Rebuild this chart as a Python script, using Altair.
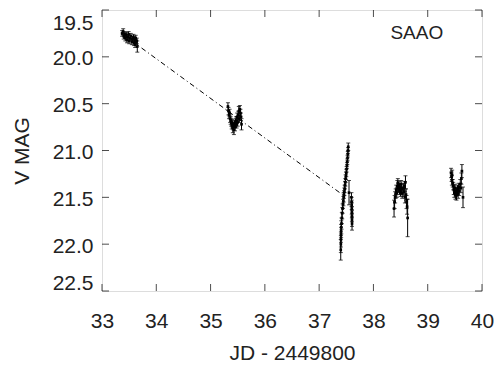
import altair as alt
import pandas as pd

# ---- data ----
c1_x = [33.37, 33.39, 33.40, 33.42, 33.43, 33.45, 33.46, 33.48, 33.49, 33.50,
        33.52, 33.53, 33.55, 33.56, 33.58, 33.59, 33.60, 33.61, 33.62, 33.63,
        33.64, 33.65]
c1_m = [19.75, 19.73, 19.78, 19.76, 19.80, 19.77, 19.82, 19.79, 19.76, 19.83,
        19.80, 19.78, 19.84, 19.81, 19.79, 19.85, 19.82, 19.87, 19.80, 19.84,
        19.83, 19.89]
c1_e = [0.03] * 21 + [0.06]

c2_x = [35.32, 35.33, 35.34, 35.35, 35.36, 35.37, 35.38, 35.39, 35.40, 35.41,
        35.42, 35.43, 35.44, 35.45, 35.46, 35.47, 35.48, 35.49, 35.50, 35.51,
        35.52, 35.53, 35.54, 35.55, 35.56, 35.57]
c2_m = [20.53, 20.58, 20.62, 20.60, 20.66, 20.68, 20.70, 20.73, 20.71, 20.76,
        20.74, 20.78, 20.72, 20.75, 20.70, 20.68, 20.72, 20.64, 20.70, 20.62,
        20.58, 20.66, 20.56, 20.60, 20.64, 20.72]
c2_e = [0.04, 0.04, 0.04, 0.04, 0.04, 0.04, 0.04, 0.04, 0.04, 0.05,
        0.04, 0.05, 0.04, 0.04, 0.04, 0.04, 0.04, 0.04, 0.04, 0.04,
        0.05, 0.04, 0.04, 0.04, 0.04, 0.06]

c3_x = [37.398, 37.400, 37.401, 37.403, 37.405, 37.408, 37.412, 37.418, 37.425, 37.432,
        37.440, 37.446, 37.452, 37.458, 37.464, 37.470, 37.476, 37.482, 37.488, 37.494,
        37.500, 37.506, 37.512, 37.518, 37.523, 37.528, 37.532, 37.536, 37.550,
        37.595, 37.598, 37.600, 37.601, 37.603, 37.604, 37.605, 37.606]
c3_m = [22.06, 22.00, 21.95, 21.90, 21.86, 21.82, 21.78, 21.72, 21.67, 21.62,
        21.57, 21.54, 21.50, 21.47, 21.44, 21.41, 21.37, 21.34, 21.30, 21.27,
        21.24, 21.20, 21.16, 21.12, 21.08, 21.04, 21.00, 20.96, 21.45,
        21.50, 21.55, 21.58, 21.62, 21.66, 21.70, 21.74, 21.78]
c3_e = [0.11, 0.09, 0.08, 0.08, 0.07, 0.07, 0.06, 0.06, 0.06, 0.05,
        0.05, 0.05, 0.05, 0.04, 0.04, 0.04, 0.04, 0.04, 0.04, 0.04,
        0.04, 0.03, 0.03, 0.03, 0.03, 0.03, 0.03, 0.04, 0.13,
        0.05, 0.05, 0.05, 0.06, 0.06, 0.06, 0.07, 0.07]

c4_x = [38.38, 38.39, 38.40, 38.41, 38.42, 38.43, 38.44, 38.45, 38.46, 38.47,
        38.48, 38.49, 38.50, 38.51, 38.52, 38.53, 38.55, 38.56, 38.57, 38.58,
        38.59, 38.60, 38.61, 38.62, 38.63]
c4_m = [21.62, 21.55, 21.50, 21.46, 21.42, 21.45, 21.38, 21.35, 21.40, 21.37,
        21.42, 21.39, 21.44, 21.36, 21.41, 21.46, 21.40, 21.44, 21.38, 21.50,
        21.34, 21.47, 21.55, 21.60, 21.72]
c4_e = [0.09, 0.07, 0.06, 0.05, 0.05, 0.05, 0.06, 0.05, 0.05, 0.04,
        0.05, 0.04, 0.05, 0.04, 0.05, 0.05, 0.05, 0.05, 0.05, 0.06,
        0.07, 0.06, 0.07, 0.08, 0.20]

c5_x = [39.43, 39.44, 39.445, 39.45, 39.46, 39.47, 39.48, 39.49, 39.50, 39.51,
        39.52, 39.53, 39.54, 39.55, 39.56, 39.57, 39.58, 39.60, 39.61, 39.62,
        39.63, 39.65]
c5_m = [21.24, 21.28, 21.32, 21.26, 21.35, 21.38, 21.42, 21.45, 21.40, 21.47,
        21.43, 21.48, 21.44, 21.41, 21.46, 21.39, 21.43, 21.36, 21.40, 21.30,
        21.22, 21.50]
c5_e = [0.05, 0.05, 0.05, 0.05, 0.04, 0.04, 0.05, 0.05, 0.04, 0.05,
        0.04, 0.05, 0.04, 0.04, 0.05, 0.04, 0.05, 0.05, 0.05, 0.06,
        0.07, 0.11]

trend_x = [33.55, 37.45]
trend_m = [19.83, 21.48]

x_ticks = [33, 34, 35, 36, 37, 38, 39, 40]
y_ticks = [19.5, 20.0, 20.5, 21.0, 21.5, 22.0, 22.5]
label_text = ["SAAO"]
label_x = [38.8]
label_m = [19.75]

# ---- tables ----
xs = c1_x + c2_x + c3_x + c4_x + c5_x
ms = c1_m + c2_m + c3_m + c4_m + c5_m
es = c1_e + c2_e + c3_e + c4_e + c5_e
obs = pd.DataFrame({"jd": xs, "mag": ms, "err": es})
obs["lo"] = obs["mag"] - obs["err"]
obs["hi"] = obs["mag"] + obs["err"]

trend = pd.DataFrame({"jd": trend_x, "mag": trend_m})
xt = pd.DataFrame({"jd": x_ticks})
yt = pd.DataFrame({"mag": y_ticks})
lab = pd.DataFrame({"t": label_text, "jd": label_x, "mag": label_m})

FONT = "Liberation Sans"
TXT = "#222"
xscale = alt.Scale(domain=[33, 40], nice=False, zero=False)
yscale = alt.Scale(domain=[19.5, 22.5], reverse=True, nice=False, zero=False)

X = alt.X("jd:Q", scale=xscale, title="JD - 2449800",
          axis=alt.Axis(values=x_ticks, ticks=False, domain=False, grid=False,
                        labelFlush=False, labelFontSize=21, labelPadding=19,
                        titleFontSize=21, titlePadding=11, titleFontWeight="normal",
                        labelColor=TXT, titleColor=TXT, labelFont=FONT, titleFont=FONT,
                        format="d"))
Y = alt.Y("mag:Q", scale=yscale, title="V MAG",
          axis=alt.Axis(values=y_ticks, ticks=False, domain=False, grid=False,
                        labelFlush=True, labelFontSize=21, labelPadding=9, labelOffset=2,
                        titleFontSize=21, titlePadding=20, titleFontWeight="normal",
                        labelColor=TXT, titleColor=TXT, labelFont=FONT, titleFont=FONT,
                        format=".1f"))

bars = alt.Chart(obs).mark_rule(color="black", strokeWidth=1).encode(
    x=X, y=alt.Y("lo:Q", scale=yscale), y2="hi:Q")
cap_lo = alt.Chart(obs).mark_tick(color="black", orient="horizontal", size=4, thickness=1).encode(
    x=alt.X("jd:Q", scale=xscale), y=alt.Y("lo:Q", scale=yscale))
cap_hi = alt.Chart(obs).mark_tick(color="black", orient="horizontal", size=4, thickness=1).encode(
    x=alt.X("jd:Q", scale=xscale), y=alt.Y("hi:Q", scale=yscale))
pts = alt.Chart(obs).mark_square(color="black", size=7, opacity=1).encode(
    x=alt.X("jd:Q", scale=xscale), y=Y)
line = alt.Chart(trend).mark_line(color="black", strokeWidth=1, strokeDash=[5, 3, 1, 3]).encode(
    x=alt.X("jd:Q", scale=xscale), y=alt.Y("mag:Q", scale=yscale))

TL = 7
xb = alt.Chart(xt).mark_tick(orient="vertical", color="black", thickness=1, size=TL,
                             yOffset=-TL / 2).encode(
    x=alt.X("jd:Q", scale=xscale), y=alt.datum(22.5, scale=yscale))
xtp = alt.Chart(xt).mark_tick(orient="vertical", color="black", thickness=1, size=TL,
                              yOffset=TL / 2).encode(
    x=alt.X("jd:Q", scale=xscale), y=alt.datum(19.5, scale=yscale))
yl = alt.Chart(yt).mark_tick(orient="horizontal", color="black", thickness=1, size=TL,
                             xOffset=TL / 2).encode(
    y=alt.Y("mag:Q", scale=yscale), x=alt.datum(33, scale=xscale))
yr = alt.Chart(yt).mark_tick(orient="horizontal", color="black", thickness=1, size=TL,
                             xOffset=-TL / 2).encode(
    y=alt.Y("mag:Q", scale=yscale), x=alt.datum(40, scale=xscale))

txt = alt.Chart(lab).mark_text(font=FONT, fontSize=19, color=TXT).encode(
    x=alt.X("jd:Q", scale=xscale), y=alt.Y("mag:Q", scale=yscale), text="t:N")

chart = alt.layer(line, bars, cap_lo, cap_hi, pts, xb, xtp, yl, yr, txt).properties(
    width=380, height=281,
    autosize=alt.AutoSizeParams(type="none"),
    padding={"left": 102, "top": 10, "right": 15, "bottom": 76},
).configure_view(stroke="black", strokeWidth=1).configure(background="white")

chart.save("out.html", embed_options={"renderer": "svg", "actions": False})
